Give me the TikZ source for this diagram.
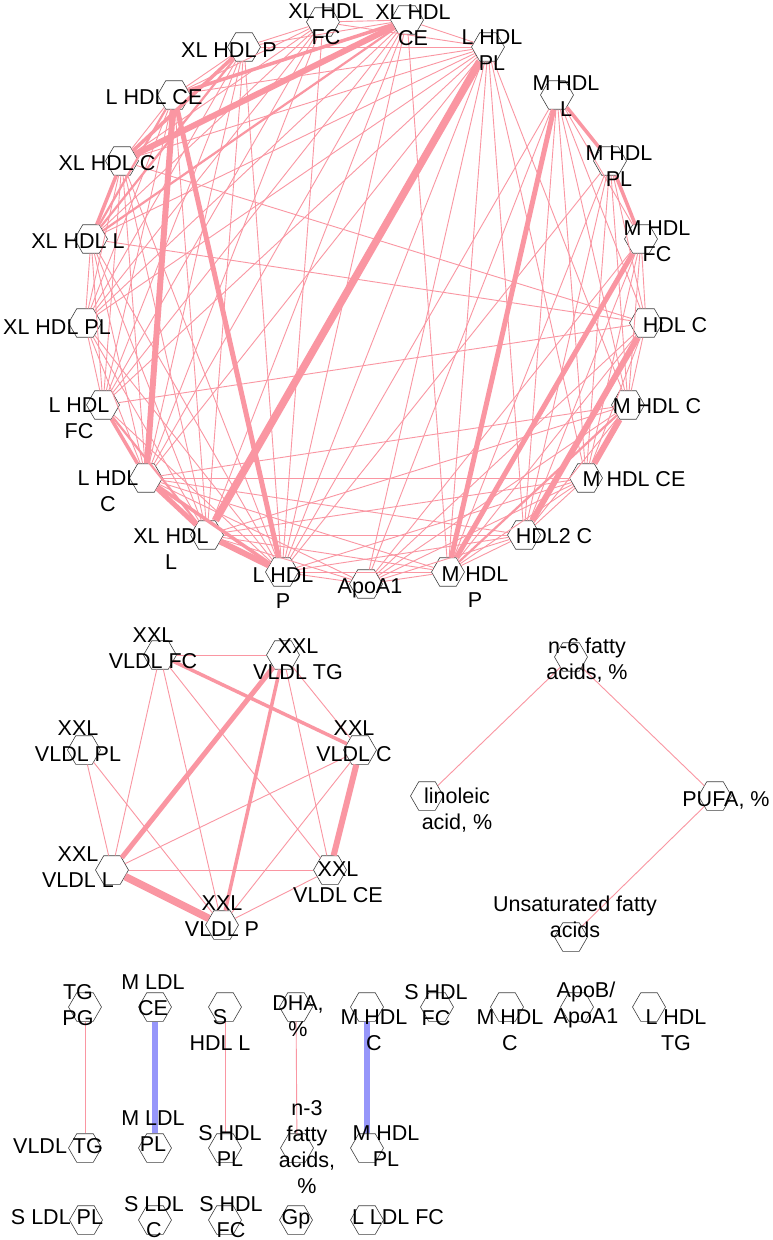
\documentclass[tikz,border=0pt]{standalone}
\usepackage{fontspec}
\setmainfont{Liberation Sans}
\usetikzlibrary{shapes.geometric}
\definecolor{ep}{RGB}{250,150,162}
\definecolor{eb}{RGB}{150,150,250}
\begin{document}
\begin{tikzpicture}[x=1pt,y=-1pt,
  font=\fontsize{21.5}{26}\selectfont,
  hexn/.style={regular polygon, regular polygon sides=6, minimum size=33pt, inner sep=0pt, draw=black!75, line width=0.6pt, fill=white},
  lbl/.style={align=center, inner sep=0pt},
  e1/.style={draw=ep, line width=0.9pt},
  e2/.style={draw=ep, line width=2.2pt},
  e3/.style={draw=ep, line width=3.5pt},
  e4/.style={draw=ep, line width=5pt},
  e5/.style={draw=ep, line width=6pt},
  e6/.style={draw=ep, line width=7.5pt},
  eblue/.style={draw=eb, line width=6.5pt}]
\useasboundingbox (0,0) rectangle (773,1240);
\fill[white] (0,0) rectangle (773,1240);
% ---------- HDL circle nodes ----------
\node[hexn] (A) at (366,584) {};
\node[hexn] (MP) at (448,572) {};
\node[hexn] (H2C) at (524,535) {};
\node[hexn] (MCE) at (586,478) {};
\node[hexn] (MC) at (628,405) {};
\node[hexn] (HC) at (646,323) {};
\node[hexn] (MFC) at (641,239) {};
\node[hexn] (MPL) at (610,161) {};
\node[hexn] (ML) at (557,95) {};
\node[hexn] (LPL) at (488,47) {};
\node[hexn] (XCE) at (407,20) {};
\node[hexn] (XFC) at (323,22) {};
\node[hexn] (XP) at (244,47) {};
\node[hexn] (LCE) at (174,95) {};
\node[hexn] (XC) at (122,161) {};
\node[hexn] (XLa) at (91,239) {};
\node[hexn] (XPL) at (85,323) {};
\node[hexn] (LFC) at (103,405) {};
\node[hexn] (LC) at (146,478) {};
\node[hexn] (XLb) at (207,535) {};
\node[hexn] (LP) at (282,572) {};
% ---------- HDL circle edges ----------
\foreach \a/\b in {XCE/XFC, XCE/XP, XCE/LPL, XCE/XPL, XCE/LFC, XCE/LC, XCE/XLb, XCE/LP,
  XFC/XP, XFC/LCE, XFC/XC, XFC/XLa, XFC/XPL, XFC/LFC, XFC/LC, XFC/LPL, XFC/LP,
  XP/LCE, XP/XPL, XP/LFC, XP/LC, XP/XLb, XP/LP, XP/LPL,
  LCE/XC, LCE/XPL, LCE/LFC, LCE/XLb, LCE/LPL,
  XC/XPL, XC/LFC, XC/LC, XC/XLb, XC/LP, XC/LPL,
  XLa/XPL, XLa/LFC, XLa/LC, XLa/XLb, XLa/LP, XLa/LPL,
  XPL/LFC, XPL/LC, XPL/XLb, XPL/LP, XPL/LPL,
  LFC/LP, LFC/LPL, LC/LPL, LP/LPL,
  ML/MFC, ML/HC, ML/MC, ML/MCE, ML/H2C, ML/A,
  MPL/HC, MPL/MC, MPL/MCE, MPL/H2C, MPL/MP,
  MFC/HC, MFC/MC, MFC/MCE, MFC/H2C, MFC/A,
  HC/MC, HC/MCE, HC/MP, HC/A,
  MC/H2C, MC/A, MCE/H2C, MCE/MP, MCE/A, H2C/MP, H2C/A, MP/A,
  LPL/A, LPL/MP, LPL/H2C, LPL/MCE, LPL/MC,
  XCE/MP,
  HC/LFC, HC/XLa, HC/XC,
  MC/LC, MC/XLb,
  MCE/XLb, MCE/LP, MCE/LC,
  H2C/LC, H2C/XLb, H2C/LP,
  MP/XLb, MP/LP, MP/LC,
  A/LP, A/XLb, A/LC,
  MPL/LP, ML/LP}
  \draw[e1] (\a) -- (\b);
\draw[e2] (XLa) -- (XCE);
\draw[e2] (XLa) -- (LCE);
\draw[e2] (XLa) -- (XP);
\draw[e2] (MP) -- (MC);
\draw[e2] (LFC) -- (XLb);
\draw[e3] (XP) -- (XC);
\draw[e3] (LCE) -- (XCE);
\draw[e3] (ML) -- (MPL);
\draw[e3] (MPL) -- (MFC);
\draw[e3] (LFC) -- (LC);
\draw[e3] (LC) -- (LP);
\draw[e3] (XC) -- (XLa);
\draw[e4] (LCE) -- (LP);
\draw[e4] (LC) -- (XLb);
\draw[e4] (ML) -- (MP);
\draw[e4] (MFC) -- (MP);
\draw[e5] (XC) -- (XCE);
\draw[e5] (MC) -- (MCE);
\draw[e5] (XLb) -- (LP);
\draw[e5] (HC) -- (H2C);
\draw[e5] (LCE) -- (LC);
\draw[e6] (LPL) -- (XLb);
% ---------- HDL labels ----------
\node[lbl] (lA) at (370,588) {ApoA1};
\node[lbl] (lMP) at (475,587.5) {M HDL\\P};
\node[lbl] (lH2C) at (554,536) {HDL2 C};
\node[lbl] (lMCE) at (634,479) {M HDL CE};
\node[lbl] (lMC) at (657,406) {M HDL C};
\node[lbl] (lHC) at (675,325) {HDL C};
\node[lbl] (lMFC) at (657,241) {M HDL\\FC};
\node[lbl] (lMPL) at (619,166) {M HDL\\PL};
\node[lbl] (lML) at (566,96) {M HDL\\L};
\node[lbl] (lLPL) at (492,50.5) {L HDL\\PL};
\node[lbl] (lXCE) at (413,25) {XL HDL\\CE};
\node[lbl] (lXFC) at (326,24.5) {XL HDL\\FC};
\node[lbl] (lXP) at (229,50) {XL HDL P};
\node[lbl] (lLCE) at (154,97) {L HDL CE};
\node[lbl] (lXC) at (107,163) {XL HDL C};
\node[lbl] (lXLa) at (78,241) {XL HDL L};
\node[lbl] (lXPL) at (57,327) {XL HDL PL};
\node[lbl] (lLFC) at (79,418.5) {L HDL\\FC};
\node[lbl] (lLC) at (108,491.5) {L HDL\\C};
\node[lbl] (lXLb) at (171,549.5) {XL HDL\\L};
\node[lbl] (lLP) at (283,588.5) {L HDL\\P};
% ---------- XXL VLDL cluster ----------
\node[hexn] (VFC) at (160,655) {};
\node[hexn] (VTG) at (283,655) {};
\node[hexn] (VPL) at (84,750) {};
\node[hexn] (VC) at (360,750) {};
\node[hexn] (VL) at (112,870) {};
\node[hexn] (VCE) at (330,870) {};
\node[hexn] (VP) at (222,925) {};
\foreach \a/\b in {VFC/VTG, VFC/VL, VFC/VP, VFC/VCE, VTG/VC, VTG/VCE, VPL/VL, VPL/VP,
  VC/VL, VC/VP, VL/VCE, VCE/VP}
  \draw[e1] (\a) -- (\b);
\draw[e3] (VFC) -- (VC);
\draw[e4] (VTG) -- (VL);
\draw[e3] (VTG) -- (VP);
\draw[e5] (VC) -- (VCE);
\draw[e6] (VL) -- (VP);
\node[lbl] (lVFC) at (153,648.5) {XXL\\VLDL FC};
\node[lbl] (lVTG) at (298,659.5) {XXL\\VLDL TG};
\node[lbl] (lVPL) at (78,741.5) {XXL\\VLDL PL};
\node[lbl] (lVC) at (354,741.5) {XXL\\VLDL C};
\node[lbl] (lVL) at (78,867.5) {XXL\\VLDL L};
\node[lbl] (lVCE) at (338,882.5) {XXL\\VLDL CE};
\node[lbl] (lVP) at (222,916.5) {XXL\\VLDL P};
% ---------- fatty acid cluster ----------
\node[hexn] (n6) at (571,657) {};
\node[hexn] (lin) at (427,796) {};
\node[hexn] (pufa) at (715,796) {};
\node[hexn] (unsat) at (571,937) {};
\draw[e1] (n6) -- (lin);
\draw[e1] (n6) -- (pufa);
\draw[e1] (pufa) -- (unsat);
\node[lbl] (ln6) at (587,660.5) {n-6 fatty\\acids, \%};
\node[lbl] (llin) at (457,810) {linoleic\\acid, \%};
\node[lbl] (lpufa) at (726,800) {PUFA, \%};
\node[lbl] (lunsat) at (575,916.5) {Unsaturated fatty\\acids};
% ---------- bottom rows ----------
\node[hexn] (tgpg) at (85,1007) {};
\node[hexn] (mldlce) at (155,1007) {};
\node[hexn] (shdll) at (225,1007) {};
\node[hexn] (dha) at (296,1007) {};
\node[hexn] (mhdlca) at (367,1007) {};
\node[hexn] (shdlfca) at (437,1007) {};
\node[hexn] (mhdlcb) at (507,1007) {};
\node[hexn] (apob) at (577,1007) {};
\node[hexn] (lhdltg) at (649,1007) {};
\node[hexn] (vldltg) at (85,1148) {};
\node[hexn] (mldlpl) at (155,1148) {};
\node[hexn] (shdlpl) at (225,1148) {};
\node[hexn] (n3) at (297,1148) {};
\node[hexn] (mhdlpl) at (367,1148) {};
\node[hexn] (sldlpl) at (86,1220) {};
\node[hexn] (sldlc) at (155,1220) {};
\node[hexn] (shdlfcb) at (225,1220) {};
\node[hexn] (gp) at (296,1220) {};
\node[hexn] (lldlfc) at (367,1220) {};
\draw[e1] (tgpg) -- (vldltg);
\draw[eblue] (mldlce) -- (mldlpl);
\draw[e1] (shdll) -- (shdlpl);
\draw[e1] (dha) -- (n3);
\draw[eblue] (mhdlca) -- (mhdlpl);
\node[lbl] (ltgpg) at (78,1005) {TG\\PG};
\node[lbl] (lmldlce) at (153,995) {M LDL\\CE};
\node[lbl] (lshdll) at (220,1030) {S\\HDL L};
\node[lbl] (ldha) at (298,1016.5) {DHA,\\\%};
\node[lbl] (lmhdlca) at (374,1030) {M HDL\\C};
\node[lbl] (lshdlfca) at (436,1005.5) {S HDL\\FC};
\node[lbl] (lmhdlcb) at (510,1030) {M HDL\\C};
\node[lbl] (lapob) at (586,1005) {ApoB/\\ApoA1};
\node[lbl] (llhdltg) at (676,1030) {L HDL\\TG};
\node[lbl] (lvldltg) at (58,1146) {VLDL TG};
\node[lbl] (lmldlpl) at (153,1131.5) {M LDL\\PL};
\node[lbl] (lshdlpl) at (230,1146) {S HDL\\PL};
\node[lbl] (ln3) at (307,1147) {n-3\\fatty\\acids,\\\%};
\node[lbl] (lmhdlpl) at (386,1146) {M HDL\\PL};
\node[lbl] (lsldlpl) at (57,1217) {S LDL PL};
\node[lbl] (lsldlc) at (154,1217.5) {S LDL\\C};
\node[lbl] (lshdlfcb) at (231,1217.5) {S HDL\\FC};
\node[lbl] (lgp) at (296,1219) {Gp};
\node[lbl] (llldlfc) at (398,1217) {L LDL FC};
\end{tikzpicture}
\end{document}
